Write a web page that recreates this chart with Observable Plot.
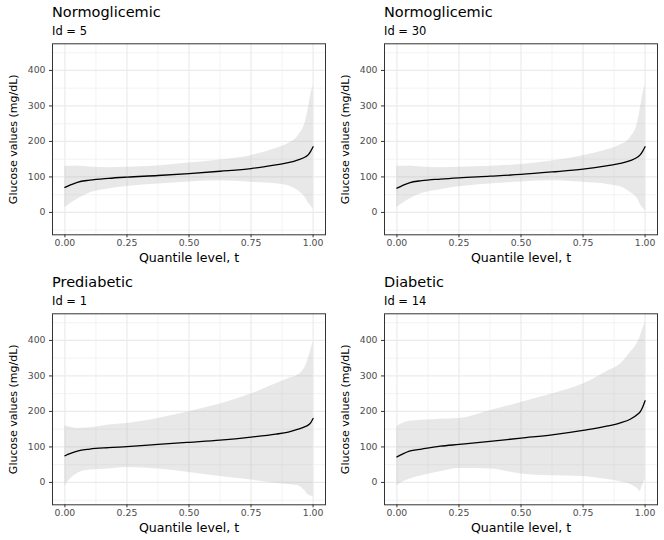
<!DOCTYPE html>
<html><head><meta charset="utf-8">
<script src="https://cdn.jsdelivr.net/npm/d3@7"></script>
<script src="https://cdn.jsdelivr.net/npm/@observablehq/plot@0.6"></script>
<style>
body{margin:0;background:#fff;}
#chart{position:relative;width:664px;height:540px;font-family:"DejaVu Sans",sans-serif;background:#fff;}
.panel{position:absolute;width:332px;height:270px;}
.panel svg{position:absolute;left:0;top:0;}
.ttl{position:absolute;left:52px;top:4.7px;font-size:14.5px;line-height:14.5px;white-space:nowrap;color:#000;}
.sub{position:absolute;left:52px;top:26px;font-size:11.5px;line-height:11.5px;white-space:nowrap;color:#000;}
</style></head><body><div id="chart"></div>
<script>
// Quantile levels
const t = [0, 0.02, 0.05, 0.1, 0.175, 0.25, 0.375, 0.5, 0.625, 0.75, 0.85, 0.9, 0.94, 0.97, 0.98, 0.99, 1];

const groups = ["Normoglicemic", "Normoglicemic", "Prediabetic", "Diabetic"];
const ids = [5, 30, 1, 14];

// Id = 5
const line5  = [70.5, 77, 85, 91, 96, 99.5, 104, 109.5, 116, 123.5, 134, 140, 148, 157, 162, 172, 185];
const upper5 = [129.5, 130, 131, 128, 126, 127, 131, 139, 148, 160, 180, 194, 216, 258, 290, 329, 357];
const lower5 = [14, 24, 37, 55, 66, 73, 80, 86, 89, 85, 81, 75, 61, 40, 28, 19, 11];
// Id = 30
const line30  = [68.5, 75, 83.5, 89.5, 94, 97.5, 102, 107, 114, 122, 132, 138, 146, 156, 162, 172, 185];
const upper30 = [129.5, 130, 131, 128, 126, 127, 130, 135, 145, 160, 177, 190, 210, 253, 290, 329, 361];
const lower30 = [14, 24, 37, 53, 64, 72, 80, 86, 89, 85, 79, 72, 57, 38, 24, 13, 5];
// Id = 1
const line1  = [75, 81, 88.5, 94, 98, 101, 107, 113, 119, 127.5, 136, 142, 150, 158, 161.5, 168, 180];
const upper1 = [160, 156, 152, 154, 162, 166, 180, 199, 221, 249, 278, 292, 303, 328, 347, 370, 396];
const lower1 = [-9, 8, 25, 35, 38, 42, 38, 28, 17, 7, -2, -6, -9, -26, -35, -38, -39];
// Id = 14
const line14  = [72, 79, 88, 94, 102, 107, 115.5, 125, 134, 146.5, 159, 168, 178, 192, 199, 212, 230];
const upper14 = [157, 165, 172, 175, 178, 180, 202, 225, 249, 277, 314, 333, 365, 394, 410, 430, 451];
const lower14 = [-9, 0, 9, 19, 30, 39, 38, 24, 19, 17, 8, 2, -5, -18, -25, -8, 9];

const lines  = [line5, line30, line1, line14];
const uppers = [upper5, upper30, upper1, upper14];
const lowers = [lower5, lower30, lower1, lower14];

const xMajor = [0, 0.25, 0.5, 0.75, 1];
const xMinor = [0.125, 0.375, 0.625, 0.875];
const yMajor = [0, 100, 200, 300, 400];
const yMinor = [-50, 50, 150, 250, 350, 450];
const xTitle = "Quantile level, t";
const yTitle = "Glucose values (mg/dL)";

const chart = document.getElementById("chart");

function makePanel(i) {
  const data = t.map((tt, k) => ({t: tt, q: lines[i][k], lo: lowers[i][k], hi: uppers[i][k]}));
  return Plot.plot({
    width: 332, height: 270,
    marginLeft: 52, marginRight: 7, marginTop: 43.3, marginBottom: 35.7,
    x: {domain: [-0.05, 1.05]},
    y: {domain: [-63, 475]},
    style: {fontFamily: "DejaVu Sans", background: "transparent", overflow: "visible"},
    marks: [
      Plot.ruleX(xMinor, {stroke: "#ebebeb", strokeWidth: 0.6}),
      Plot.ruleY(yMinor, {stroke: "#ebebeb", strokeWidth: 0.6}),
      Plot.ruleX(xMajor, {stroke: "#ebebeb", strokeWidth: 1.2}),
      Plot.ruleY(yMajor, {stroke: "#ebebeb", strokeWidth: 1.2}),
      Plot.areaY(data, {x: "t", y1: "lo", y2: "hi", fill: "#b3b3b3", fillOpacity: 0.3, curve: "monotone-x"}),
      Plot.line(data, {x: "t", y: "q", stroke: "#000", strokeWidth: 1.3, curve: "monotone-x"}),
      Plot.frame({stroke: "#333", strokeWidth: 1}),
      Plot.axisX({ticks: xMajor, tickFormat: d3.format(".2f"), tickSize: 3, tickPadding: 2, fontSize: 9.3, stroke: "#333", fill: "#4d4d4d", label: null}),
      Plot.axisY({ticks: yMajor, tickFormat: d3.format("d"), tickSize: 3, tickPadding: 4, fontSize: 9.3, stroke: "#333", fill: "#4d4d4d", label: null}),
      Plot.text([xTitle], {text: d => d, frameAnchor: "bottom", dy: 27.4, lineAnchor: "bottom", textAnchor: "middle", fontSize: 12.6, fill: "#000"}),
      Plot.text([yTitle], {text: d => d, frameAnchor: "left", dx: -39, rotate: -90, textAnchor: "middle", lineAnchor: "middle", fontSize: 11, fill: "#000"})
    ]
  });
}

for (let i = 0; i < 4; i++) {
  const div = document.createElement("div");
  div.className = "panel";
  div.style.left = (i % 2) * 332 + "px";
  div.style.top = Math.floor(i / 2) * 270 + "px";
  div.appendChild(makePanel(i));
  const ttl = document.createElement("div");
  ttl.className = "ttl";
  ttl.textContent = groups[i];
  const sub = document.createElement("div");
  sub.className = "sub";
  sub.textContent = "Id = " + ids[i];
  div.appendChild(ttl);
  div.appendChild(sub);
  chart.appendChild(div);
}
</script>
</body></html>
